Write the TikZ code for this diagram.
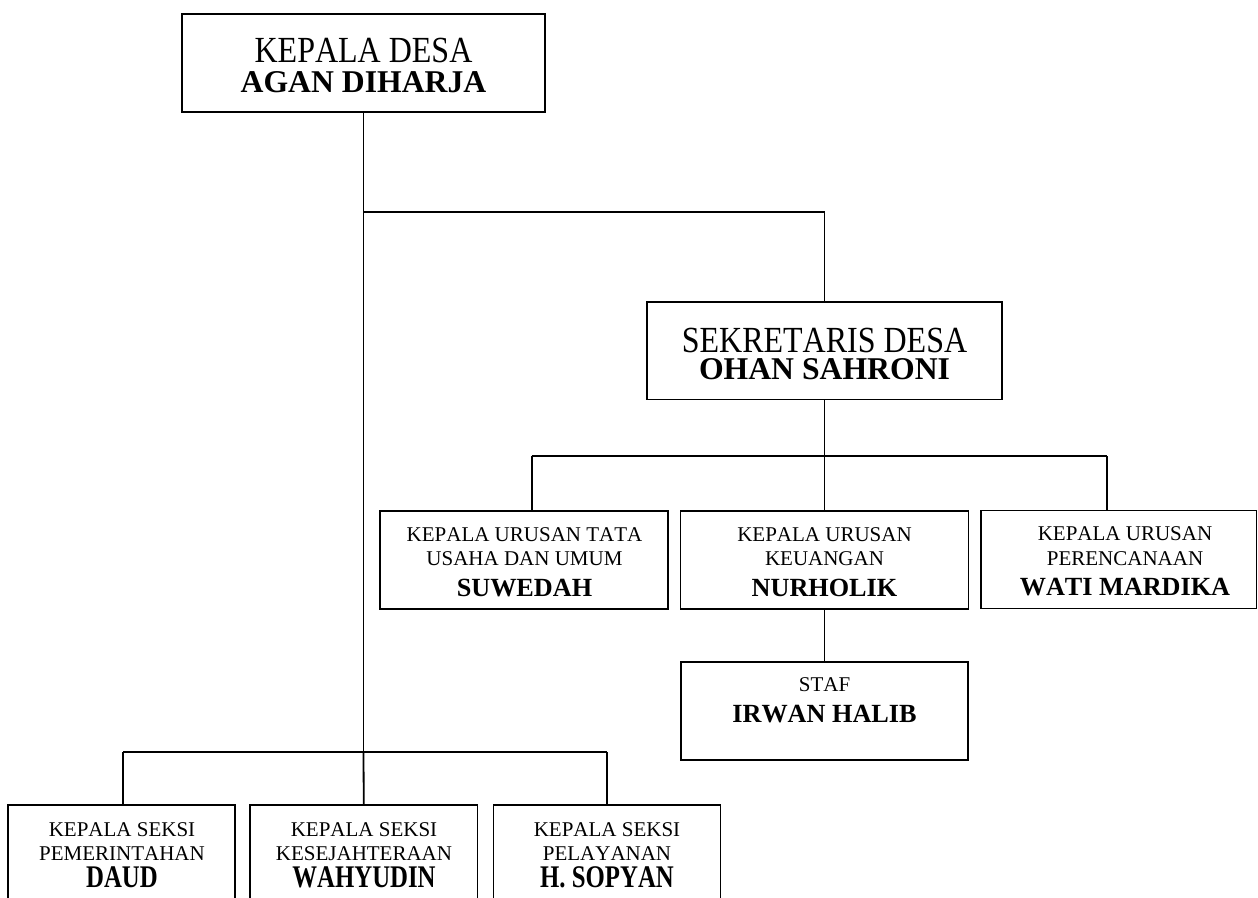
\documentclass[tikz,border=0pt]{standalone}
\usepackage{fontspec}
\setmainfont[Kerning=Off]{Liberation Serif}
\usepackage{graphicx}
\tikzset{
  box/.style={draw, line width=1.8pt, inner sep=0pt, rectangle},
  conn/.style={draw, line width=1.8pt},
  bigttl/.style={anchor=base, inner sep=0pt, text depth=0pt, font=\fontsize{32}{32}\selectfont},
  bigname/.style={anchor=base, inner sep=0pt, text depth=0pt, text height=21pt, font=\fontsize{31.7}{32}\selectfont\bfseries},
  ttl/.style={anchor=base, inner sep=0pt, text depth=0pt, font=\fontsize{21}{21}\selectfont},
  nm/.style={anchor=base, inner sep=0pt, text depth=0pt, font=\fontsize{26.2}{26}\selectfont\bfseries},
  bnm/.style={anchor=base, inner sep=0pt, text depth=0pt, font=\fontsize{24.8}{25}\selectfont\bfseries},
}
\begin{document}
\begin{tikzpicture}[x=1pt,y=-1pt]
\useasboundingbox (0,0) rectangle (1258,897);
\clip (0,0) rectangle (1258,897);
% boxes
\node[box, minimum width=363pt, minimum height=98pt] (kd) at (363.5,63) {};
\node[box, minimum width=355pt, minimum height=97.5pt] (sek) at (824.5,350.75) {};
\node[box, minimum width=288pt, minimum height=98pt] (tu) at (524,560) {};
\node[box, minimum width=288pt, minimum height=98pt] (keu) at (824.5,560) {};
\node[box, minimum width=275.5pt, minimum height=98pt] (per) at (1118.75,559.5) {};
\node[box, minimum width=287pt, minimum height=98pt] (staf) at (824.5,711) {};
\node[box, minimum width=227pt, minimum height=120pt] (b1) at (121.5,865) {};
\node[box, minimum width=227.5pt, minimum height=120pt] (b2) at (363.75,865) {};
\node[box, minimum width=227pt, minimum height=120pt] (b3) at (607,865) {};
% junction coordinates
\coordinate (jt) at (363.5,212);
\coordinate (jb) at (363.5,752);
\coordinate (jbl) at (123,752);
\coordinate (jbr) at (607,752);
\coordinate (jsl) at (531.7,456);
\coordinate (jsr) at (1107,456);
% connectors
\draw[conn] (kd.south) -- (jb);
\draw[conn] (jt) -| (sek.north);
\draw[conn] (sek.south) -- (keu.north);
\draw[conn] (jsl) -- (jsr);
\draw[conn] (jsl) -- (jsl |- tu.north);
\draw[conn] (jsr) -- (jsr |- per.north);
\draw[conn] (keu.south) -- (staf.north);
\draw[conn] (jbl) -- (jbr);
\draw[conn] (jbl) -- (jbl |- b1.north);
\draw[conn] (jb) -- (b2.north);
\draw[conn] (jbr) -- (b3.north);
% texts
\node[bigttl] (kd1) at (363.5,62.7) {\scalebox{1}[1.15]{KEPALA DESA}};
\node[bigname] (kd2) at (363.5,92.3) {AGAN DIHARJA};
\node[bigttl] (sek1) at (824.5,352) {\scalebox{1}[1.15]{SEKRETARIS DESA}};
\node[bigname] (sek2) at (824.5,379.5) {OHAN SAHRONI};
\node[ttl] (tu1) at (524.5,541.7) {KEPALA URUSAN TATA};
\node[ttl] (tu2) at (524.5,565) {USAHA DAN UMUM};
\node[nm] (tu3) at (524.5,596) {SUWEDAH};
\node[ttl] (keu1) at (824.5,541.7) {KEPALA URUSAN};
\node[ttl] (keu2) at (824.5,565) {KEUANGAN};
\node[nm] (keu3) at (824.5,596) {NURHOLIK};
\node[ttl] (per1) at (1125,540.5) {KEPALA URUSAN};
\node[ttl] (per2) at (1125,565) {PERENCANAAN};
\node[nm] (per3) at (1125,595.5) {WATI MARDIKA};
\node[ttl] (st1) at (824.5,691.7) {STAF};
\node[nm] (st2) at (824.5,722.7) {IRWAN HALIB};
\node[ttl] (b11) at (122,836.5) {KEPALA SEKSI};
\node[ttl] (b12) at (122,860) {PEMERINTAHAN};
\node[bnm] (b13) at (122,887) {\scalebox{1}[1.27]{DAUD}};
\node[ttl] (b21) at (364,836.5) {KEPALA SEKSI};
\node[ttl] (b22) at (364,860) {KESEJAHTERAAN};
\node[bnm] (b23) at (364,887) {\scalebox{1}[1.27]{WAHYUDIN}};
\node[ttl] (b31) at (607,836.5) {KEPALA SEKSI};
\node[ttl] (b32) at (607,860) {PELAYANAN};
\node[bnm] (b33) at (607,887) {\scalebox{1}[1.27]{H. SOPYAN}};
\end{tikzpicture}
\end{document}
